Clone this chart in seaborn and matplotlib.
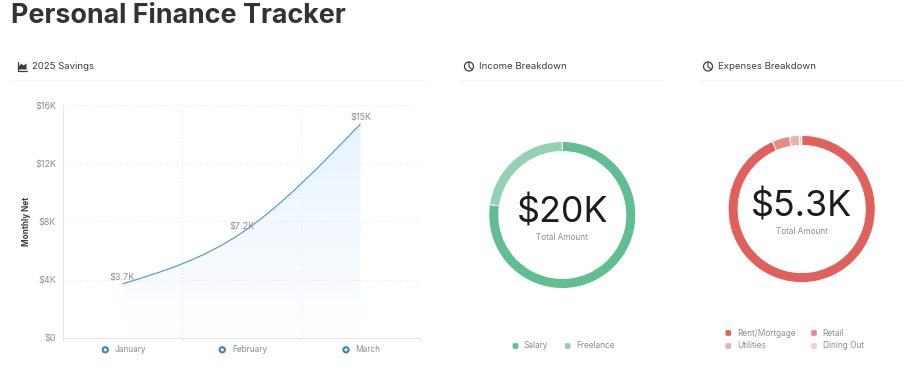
import numpy as np
import pandas as pd
import matplotlib
matplotlib.use('Agg')
import matplotlib.pyplot as plt
import seaborn as sns
from matplotlib.path import Path
from matplotlib.patches import PathPatch, Circle, FancyBboxPatch, Polygon
from matplotlib.colors import LinearSegmentedColormap

months = ['January', 'February', 'March']
net = [3700, 7200, 14700]
net_labels = ['$3.7K', '$7.2K', '$15K']
y_ticks = [0, 4000, 8000, 12000, 16000]
y_tick_labels = ['$0', '$4K', '$8K', '$12K', '$16K']

income_names = ['Salary', 'Freelance']
income_vals = [15460, 4540]
income_colors = ['#60be92', '#93d1b2']

expense_names = ['Rent/Mortgage', 'Retail', 'Utilities', 'Dining Out']
expense_vals = [4955, 205, 112, 28]
expense_colors = ['#e0605b', '#e98a86', '#f0adab', '#f6cfce']

W, H = 921, 368
GREY = '#8f8f8f'
DARK = '#3d3d3d'

sns.set_theme(style='white')
plt.rcParams['font.family'] = ['Inter', 'DejaVu Sans']

fig = plt.figure(figsize=(W / 100, H / 100), dpi=100, facecolor='white')


def px_axes(x0, y0, x1, y1, **kw):
    return fig.add_axes([x0 / W, 1 - y1 / H, (x1 - x0) / W, (y1 - y0) / H], **kw)


# ---- area chart
ax = px_axes(63, 105, 420, 337.7)
df = pd.DataFrame({'month': range(len(months)), 'net': net})
sns.lineplot(data=df, x='month', y='net', ax=ax, linewidth=0)

# monotone curve through the months, as bezier segments
s = np.diff(net)
m1 = 2 * min(s[0], s[1], 0.25 * (s[0] + s[1]))
m0 = (3 * s[0] - m1) / 2
m2 = (3 * s[1] - m1) / 2
verts = [(0, net[0]),
         (1 / 3, net[0] + m0 / 3), (2 / 3, net[1] - m1 / 3), (1, net[1]),
         (4 / 3, net[1] + m1 / 3), (5 / 3, net[2] - m2 / 3), (2, net[2])]
codes = [Path.MOVETO] + [Path.CURVE4] * 6
curve = PathPatch(Path(verts, codes), fc='none', ec='#5a9fd0', lw=0.9, zorder=4)

area = PathPatch(Path(verts + [(2, 0), (0, 0), (0, net[0])],
                      codes + [Path.LINETO, Path.LINETO, Path.CLOSEPOLY]),
                 fc='none', ec='none', transform=ax.transData)
ax.add_patch(area)
cmap = LinearSegmentedColormap.from_list('fade', ['#ffffff', '#e8f3fe'])
img = ax.imshow(np.linspace(0, 1, 100).reshape(-1, 1), extent=(0, 2, 0, 14700), origin='lower',
                cmap=cmap, aspect='auto', zorder=1)
img.set_clip_path(area)
ax.add_patch(curve)
ax.set_xlim(-0.5, 2.5)
ax.set_ylim(0, 16000)

for v in y_ticks[1:]:
    ax.axhline(v, color='#ececec', lw=0.8, ls=(0, (1, 2)), zorder=2)
for x in [0.5, 1.5, 2.5]:
    ax.axvline(x, color='#ececec', lw=0.8, ls=(0, (1, 2)), zorder=2)

ax.set_yticks(y_ticks)
ax.set_yticklabels(y_tick_labels, fontsize=6.5, color=GREY)
ax.set_xticks([-0.5, 0.5, 1.5, 2.5])
ax.set_xticklabels([])
ax.tick_params(axis='x', length=2.5, width=0.8, color='#e6e6e6', bottom=True)
ax.tick_params(axis='y', length=0, pad=5)
ax.set_xlabel('')
ax.set_ylabel('')
for side in ['top', 'right']:
    ax.spines[side].set_visible(False)
for side in ['left', 'bottom']:
    ax.spines[side].set_color('#e6e6e6')
    ax.spines[side].set_linewidth(0.8)

for i, lab in enumerate(net_labels):
    ax.annotate(lab, (i, net[i]), xytext=(0, 1.5), textcoords='offset points', ha='center',
                va='bottom', fontsize=6.5, color=GREY, zorder=5)


# ---- donuts
def donut(cx, cy, r, vals, colors, total, ty, sy):
    a = px_axes(cx - r, cy - r, cx + r, cy + r)
    a.pie(vals, colors=colors, startangle=90, counterclock=False, radius=1,
          wedgeprops={'width': 10 / r, 'edgecolor': 'white', 'linewidth': 0.7})
    a.set_xlim(-1, 1)
    a.set_ylim(-1, 1)
    a.axis('off')
    o.text(cx, ty, total, ha='center', va='center', fontsize=25.8, color='#1c1c1c')
    o.text(cx, sy, 'Total Amount', ha='center', va='center', fontsize=5.9, color=GREY)


# overlay in pixel coordinates, for the page furniture
o = px_axes(0, 0, W, H, zorder=5)
o.set_xlim(0, W)
o.set_ylim(H, 0)
o.axis('off')
o.patch.set_alpha(0)

donut(562.3, 215, 73.5, income_vals, income_colors, '$20K', 212, 238)
donut(801.7, 209, 73.6, expense_vals, expense_colors, '$5.3K', 206, 231)

o.text(11, 16, 'Personal Finance Tracker', fontsize=19.4, fontweight='bold', color='#333333',
       ha='left', va='center')

# card headers
for x, lab, x0, x1 in [(32, '2025 Savings', 10, 425), (479, 'Income Breakdown', 460, 662),
                       (718, 'Expenses Breakdown', 700, 902)]:
    o.text(x, 66.5, lab, fontsize=6.9, color=DARK, ha='left', va='center')
    o.plot([x0, x1], [80, 80], color='#f6f6f6', lw=0.8)

# area chart icon
o.plot([17.5, 17.5, 27], [62, 70.5, 70.5], color=DARK, lw=0.9)
o.add_patch(Polygon([(19, 69.5), (19, 66), (21.5, 63.8), (23.5, 65.5), (26.5, 63.5), (26.5, 69.5)],
                    fc=DARK, ec='none'))
# pie icons
for cx in [469, 708]:
    o.add_patch(Circle((cx, 66.5), 4.5, fc='none', ec=DARK, lw=0.9))
    o.plot([cx, cx, cx + 3.2], [62, 66.5, 69.7], color=DARK, lw=0.8)

# month labels on the axis
for i, (mx, tx) in enumerate([(105.3, 115), (222.3, 232), (346, 355.5)]):
    o.add_patch(Circle((mx, 349.8), 2.6, fc='white', ec='#3a86b4', lw=1.5))
    o.text(tx, 349.5, months[i], fontsize=6.0, color=GREY, ha='left', va='center')

o.text(26.5, 221, 'Monthly Net', rotation=90, fontsize=5.9, fontweight='bold', color=DARK,
       ha='center', va='center')


# legends
def legend_item(x, y, lab, col):
    o.add_patch(FancyBboxPatch((x - 2, y - 2), 4, 4, boxstyle='round,pad=0.8,rounding_size=1',
                               fc=col, ec='none'))
    o.text(x + 8.5, y, lab, fontsize=6.0, color=GREY, ha='left', va='center')


legend_item(515.5, 346, income_names[0], income_colors[0])
legend_item(567.7, 346, income_names[1], income_colors[1])
legend_item(728.3, 333, expense_names[0], expense_colors[0])
legend_item(814, 333, expense_names[1], expense_colors[1])
legend_item(728.3, 346, expense_names[2], expense_colors[2])
legend_item(814, 346, expense_names[3], expense_colors[3])

fig.savefig('out.png', dpi=100)
